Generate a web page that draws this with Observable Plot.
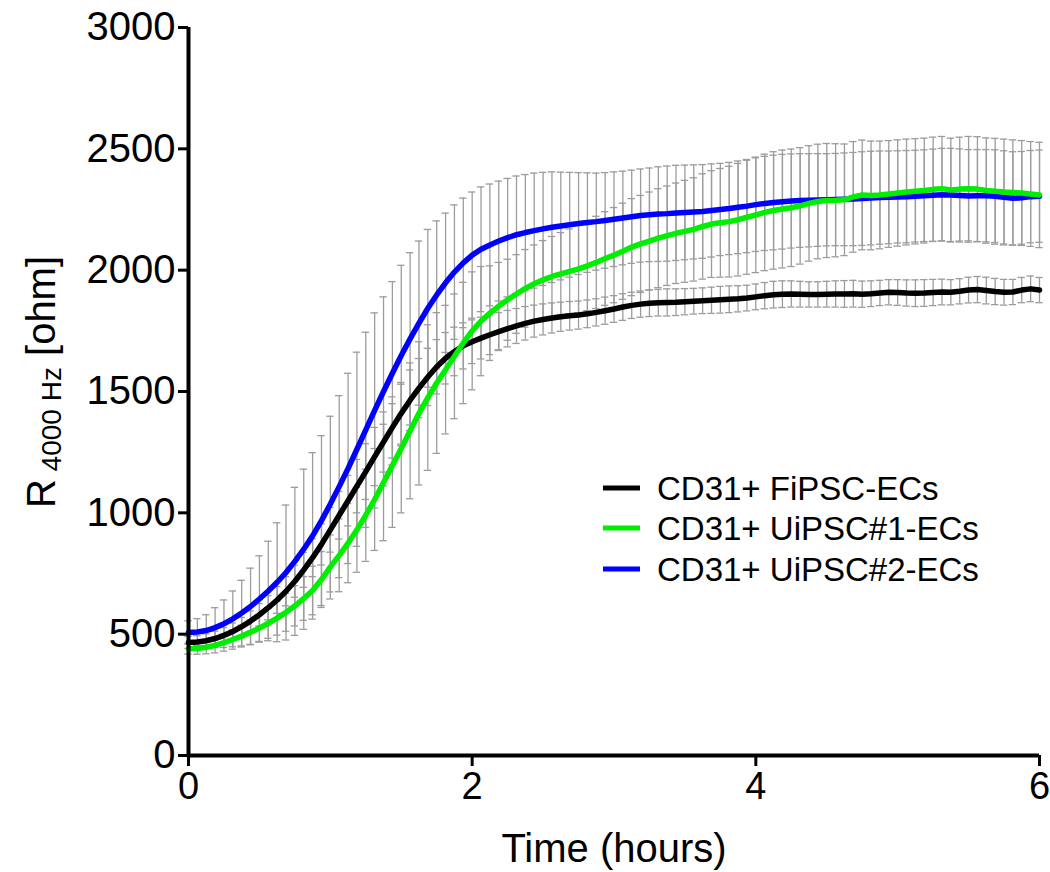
<!DOCTYPE html>
<html>
<head>
<meta charset="utf-8">
<script src="https://cdn.jsdelivr.net/npm/d3@7"></script>
<script src="https://cdn.jsdelivr.net/npm/@observablehq/plot@0.6"></script>
<style>
  html, body { margin: 0; padding: 0; background: #fff; }
  #chart { width: 1050px; height: 872px; }
</style>
</head>
<body>
<div id="chart"></div>
<script>
// ---- data ----
const seriesNames = ["CD31+ FiPSC-ECs", "CD31+ UiPSC#1-ECs", "CD31+ UiPSC#2-ECs"];
const seriesColors = ["#000000", "#00ee00", "#0000ff"];
const xTicks = [0, 2, 4, 6];
const yTicks = [0, 500, 1000, 1500, 2000, 2500, 3000];
const xLabel = "Time (hours)";

// sampling times: one measurement every 1/16 hour, 0 .. 6 h
const time = d3.range(97).map(i => i / 16);

const blackMean = [466,468,473,482,495,511,531,554,580,609,641,677,718,765,815,870,
  930,990,1050,1110,1170,1232,1292,1352,1410,1464,1514,1560,1602,1637,1665,1688,
  1705,1720,1734,1747,1759,1770,1781,1790,1797,1803,1808,1812,1815,1820,1826,1833,
  1840,1848,1855,1860,1864,1866,1867,1868,1870,1872,1874,1876,1878,1880,1882,1885,
  1890,1895,1899,1901,1902,1901,1900,1900,1901,1902,1902,1903,1901,1903,1906,1909,
  1908,1906,1905,1906,1908,1910,1909,1913,1918,1920,1916,1912,1909,1910,1918,1923,1918];
const blackSD = [25,26,28,30,32,35,38,42,46,50,55,60,66,72,78,85,
  92,98,104,110,115,120,124,126,127,125,122,118,112,106,100,95,
  90,86,82,78,75,72,69,66,64,62,60,59,58,57,56,56,
  55,55,54,54,55,55,56,55,54,53,53,54,55,55,54,53,
  53,54,55,55,54,53,52,52,53,54,55,55,54,53,52,52,
  53,54,55,55,54,53,52,52,53,54,55,54,53,52,52,53,52];

const greenMean = [440,441,446,454,465,478,492,508,525,545,566,590,617,647,680,725,
  777,825,875,930,990,1055,1125,1195,1265,1338,1410,1475,1535,1590,1645,1700,
  1750,1790,1823,1852,1878,1902,1925,1944,1960,1974,1985,1995,2005,2018,2032,2048,
  2062,2078,2095,2108,2120,2132,2142,2152,2160,2168,2180,2190,2195,2200,2208,2218,
  2228,2238,2246,2252,2257,2265,2275,2283,2287,2288,2290,2302,2310,2308,2310,2314,
  2318,2322,2325,2328,2333,2336,2330,2334,2336,2334,2328,2325,2322,2320,2318,2314,2310];
const greenSD = [22,24,27,31,35,40,45,50,55,62,70,78,83,90,100,115,
  132,150,163,175,190,210,240,255,265,280,295,300,290,265,257,250,
  243,225,195,180,167,162,160,160,162,165,170,175,180,185,190,193,
  196,198,200,200,202,204,205,207,210,213,217,220,224,228,232,235,
  238,240,242,243,242,240,238,236,235,233,230,228,226,224,222,220,
  219,218,217,216,215,215,214,214,215,216,217,218,218,217,216,216,217];

const blueMean = [507,509,515,527,543,563,587,614,645,678,714,754,800,850,905,968,
  1036,1108,1183,1262,1342,1422,1500,1575,1648,1717,1782,1843,1898,1948,1992,2030,
  2062,2086,2104,2120,2134,2146,2155,2163,2170,2177,2182,2187,2192,2196,2200,2205,
  2210,2215,2220,2225,2228,2231,2233,2236,2238,2240,2242,2246,2250,2254,2259,2264,
  2270,2275,2279,2282,2285,2287,2288,2289,2290,2291,2292,2293,2295,2297,2299,2300,
  2302,2303,2305,2307,2309,2311,2310,2308,2306,2307,2307,2305,2300,2296,2298,2303,2305];
const blueSD = [48,55,65,82,98,115,135,158,178,205,245,278,305,330,343,350,
  362,375,392,400,402,402,390,378,372,355,338,325,305,287,277,267,
  260,257,251,247,244,242,239,237,233,228,222,216,210,205,200,197,
  195,193,192,192,193,195,196,196,195,194,193,192,190,190,191,192,
  193,194,195,195,194,193,192,191,190,190,191,192,193,193,192,191,
  190,190,189,189,190,191,192,192,191,190,190,191,192,192,191,190,190];

const means = [blackMean, greenMean, blueMean];
const sds = [blackSD, greenSD, blueSD];

// table built from the arrays
const rows = [];
seriesNames.forEach((name, s) => {
  time.forEach((t, i) => rows.push({series: name, s, t, mean: means[s][i], sd: sds[s][i]}));
});

const capHalf = 0.026; // half width of the error-bar caps, in hours
const barColor = "#9c9c9c";
const font = "'Liberation Sans', Arial, sans-serif";

const plot = Plot.plot({
  width: 1050,
  height: 872,
  marginLeft: 188,
  marginRight: 11,
  marginTop: 27,
  marginBottom: 117,
  style: {fontFamily: font, fontSize: "38px", color: "#000", background: "#fff"},
  x: {domain: [0, 6]},
  y: {domain: [0, 3000]},
  marks: [
    Plot.ruleX(rows, {x: "t", y1: d => d.mean - d.sd, y2: d => d.mean + d.sd, stroke: barColor, strokeWidth: 1.3}),
    Plot.ruleY(rows, {y: d => d.mean - d.sd, x1: d => d.t - capHalf, x2: d => d.t + capHalf, stroke: barColor, strokeWidth: 1.3}),
    Plot.ruleY(rows, {y: d => d.mean + d.sd, x1: d => d.t - capHalf, x2: d => d.t + capHalf, stroke: barColor, strokeWidth: 1.3}),
    Plot.line(rows.filter(d => d.s === 0), {x: "t", y: "mean", stroke: seriesColors[0], strokeWidth: 5.5}),
    Plot.line(rows.filter(d => d.s === 2), {x: "t", y: "mean", stroke: seriesColors[2], strokeWidth: 5.5}),
    Plot.line(rows.filter(d => d.s === 1), {x: "t", y: "mean", stroke: seriesColors[1], strokeWidth: 5.5}),
    Plot.axisX({ticks: xTicks, tickSize: 11, tickPadding: 6, strokeWidth: 3, fontSize: 38, label: null, tickFormat: d => String(d)}),
    Plot.axisY({ticks: yTicks, tickSize: 10, tickPadding: 3, strokeWidth: 3, fontSize: 40, label: null, tickFormat: d => String(d)}),
    Plot.ruleX([0], {stroke: "#000", strokeWidth: 4}),
    Plot.ruleY([0], {stroke: "#000", strokeWidth: 4})
  ]
});

document.getElementById("chart").appendChild(plot);

// axis titles and legend
const svg = d3.select(plot);

svg.append("text")
  .attr("x", 614).attr("y", 862)
  .attr("text-anchor", "middle")
  .attr("font-family", font).attr("font-size", 40).attr("fill", "#000")
  .text(xLabel);

const yl = svg.append("text")
  .attr("transform", "translate(55,382) rotate(-90)")
  .attr("text-anchor", "middle")
  .attr("font-family", font).attr("font-size", 40).attr("fill", "#000");
yl.append("tspan").text("R");
yl.append("tspan").attr("font-size", 28).attr("dy", 6).text("\u00a04000 Hz");
yl.append("tspan").attr("dy", -6).text("\u00a0[ohm]");

const legendRows = [488, 528, 569];
seriesNames.forEach((name, i) => {
  svg.append("line")
    .attr("x1", 603).attr("x2", 640)
    .attr("y1", legendRows[i]).attr("y2", legendRows[i])
    .attr("stroke", seriesColors[i]).attr("stroke-width", 5);
  svg.append("text")
    .attr("x", 657).attr("y", legendRows[i])
    .attr("dy", "0.36em")
    .attr("text-anchor", "start")
    .attr("font-family", font).attr("font-size", 33).attr("fill", "#000")
    .text(name);
});
</script>
</body>
</html>
